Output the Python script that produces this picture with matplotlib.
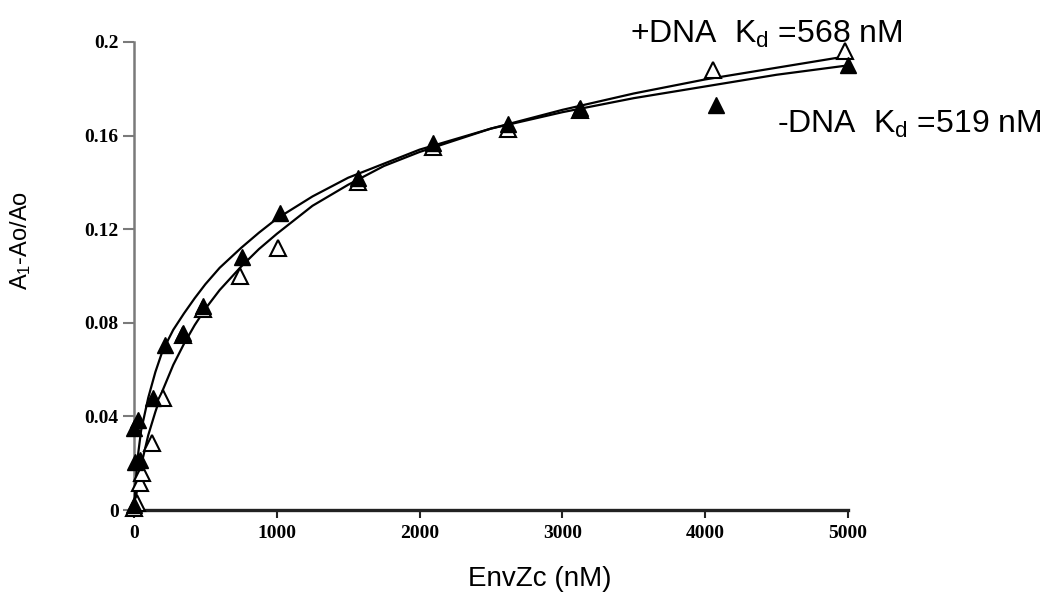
import numpy as np
import matplotlib.pyplot as plt

plt.rcParams['mathtext.fontset'] = 'custom'
plt.rcParams['mathtext.rm'] = 'Liberation Sans'
plt.rcParams['mathtext.it'] = 'Liberation Sans'

# measured points, -DNA (filled) and +DNA (open)
x_minus = [0, 0, 7, 42, 28, 133, 217, 343, 483, 756, 1022, 1570, 2094, 2620, 3123, 4075, 5000]
y_minus = [0.002, 0.035, 0.0205, 0.0214, 0.0385, 0.048, 0.0705, 0.0756, 0.087, 0.108,
           0.127, 0.142, 0.157, 0.165, 0.172, 0.173, 0.190]
x_plus = [0, 20, 42, 56, 126, 203, 343, 483, 742, 1010, 1570, 2094, 2620, 3123, 4055, 4980]
y_plus = [0.001, 0.003, 0.0115, 0.016, 0.0286, 0.048, 0.075, 0.086, 0.100, 0.112,
          0.140, 0.155, 0.163, 0.171, 0.188, 0.196]

# fitted curves
x_fit = [0, 10, 25, 50, 100, 150, 200, 275, 350, 425, 500, 600, 750, 875, 1000,
         1250, 1500, 1750, 2000, 2500, 3000, 3500, 4000, 4500, 5000]
fit_minus = [0, 0.010, 0.022, 0.034, 0.048, 0.059, 0.068, 0.077, 0.084, 0.0905, 0.0965,
             0.1035, 0.112, 0.1185, 0.1245, 0.134, 0.142, 0.148, 0.154, 0.163, 0.170,
             0.176, 0.181, 0.186, 0.190]
fit_plus = [0, 0.004, 0.010, 0.019, 0.032, 0.042, 0.051, 0.062, 0.071, 0.079, 0.086,
            0.094, 0.104, 0.1115, 0.118, 0.130, 0.139, 0.147, 0.153, 0.163, 0.171,
            0.178, 0.184, 0.189, 0.194]

xticks = [0, 1000, 2000, 3000, 4000, 5000]
yticks = [0, 0.04, 0.08, 0.12, 0.16, 0.2]
ytick_labels = ['0', '0.04', '0.08', '0.12', '0.16', '0.2']

fig = plt.figure(figsize=(10.5, 6.06), dpi=100)
ax = fig.add_axes([0.1276, 0.1584, 0.8076 - 0.1276, 0.9307 - 0.1584])

ax.plot(x_fit, fit_minus, color='black', lw=1.6, clip_on=False, zorder=3)
ax.plot(x_fit, fit_plus, color='black', lw=1.6, clip_on=False, zorder=3)
ax.plot(x_plus, y_plus, ls='none', marker='^', ms=12, mfc='white', mec='black', mew=1.5,
        clip_on=False, zorder=4)
ax.plot(x_minus, y_minus, ls='none', marker='^', ms=12, mfc='black', mec='black', mew=1.0,
        clip_on=False, zorder=5)

ax.set_xlim(0, 5000)
ax.set_ylim(0, 0.2)
ax.set_xticks(xticks)
ax.set_xticklabels([str(t) for t in xticks])
ax.set_yticks(yticks)
ax.set_yticklabels(ytick_labels)

for side in ['top', 'right']:
    ax.spines[side].set_visible(False)
ax.spines['left'].set_color('#7a7a7a')
ax.spines['left'].set_linewidth(1.8)
ax.spines['bottom'].set_color('#222222')
ax.spines['bottom'].set_linewidth(2.4)

ax.tick_params(axis='y', direction='out', length=8, width=1.5, color='#7a7a7a', pad=3)
ax.tick_params(axis='x', direction='out', length=6, width=1.5, color='#222222', pad=5)
for lab in ax.get_xticklabels() + ax.get_yticklabels():
    lab.set_fontfamily('Liberation Serif')
    lab.set_fontweight('bold')
    lab.set_fontsize(14)

ax.set_xlabel('EnvZc (nM)', fontsize=20, fontfamily='Liberation Sans')
ax.xaxis.set_label_coords(0.569, -0.119)
ax.set_ylabel('A$_\\mathrm{1}$-Ao/Ao', fontsize=17, fontfamily='Liberation Sans')
ax.yaxis.set_label_coords(-0.142, 0.577)

fig.text(630 / 1050, 1 - 43 / 606, '+DNA  K$_\\mathrm{d}$ =568 nM', fontsize=23,
         fontfamily='Liberation Sans', ha='left', va='baseline')
fig.text(777 / 1050, 1 - 133 / 606, '-DNA  K$_\\mathrm{d}$ =519 nM', fontsize=23,
         fontfamily='Liberation Sans', ha='left', va='baseline')

fig.savefig('out.png', dpi=100)
